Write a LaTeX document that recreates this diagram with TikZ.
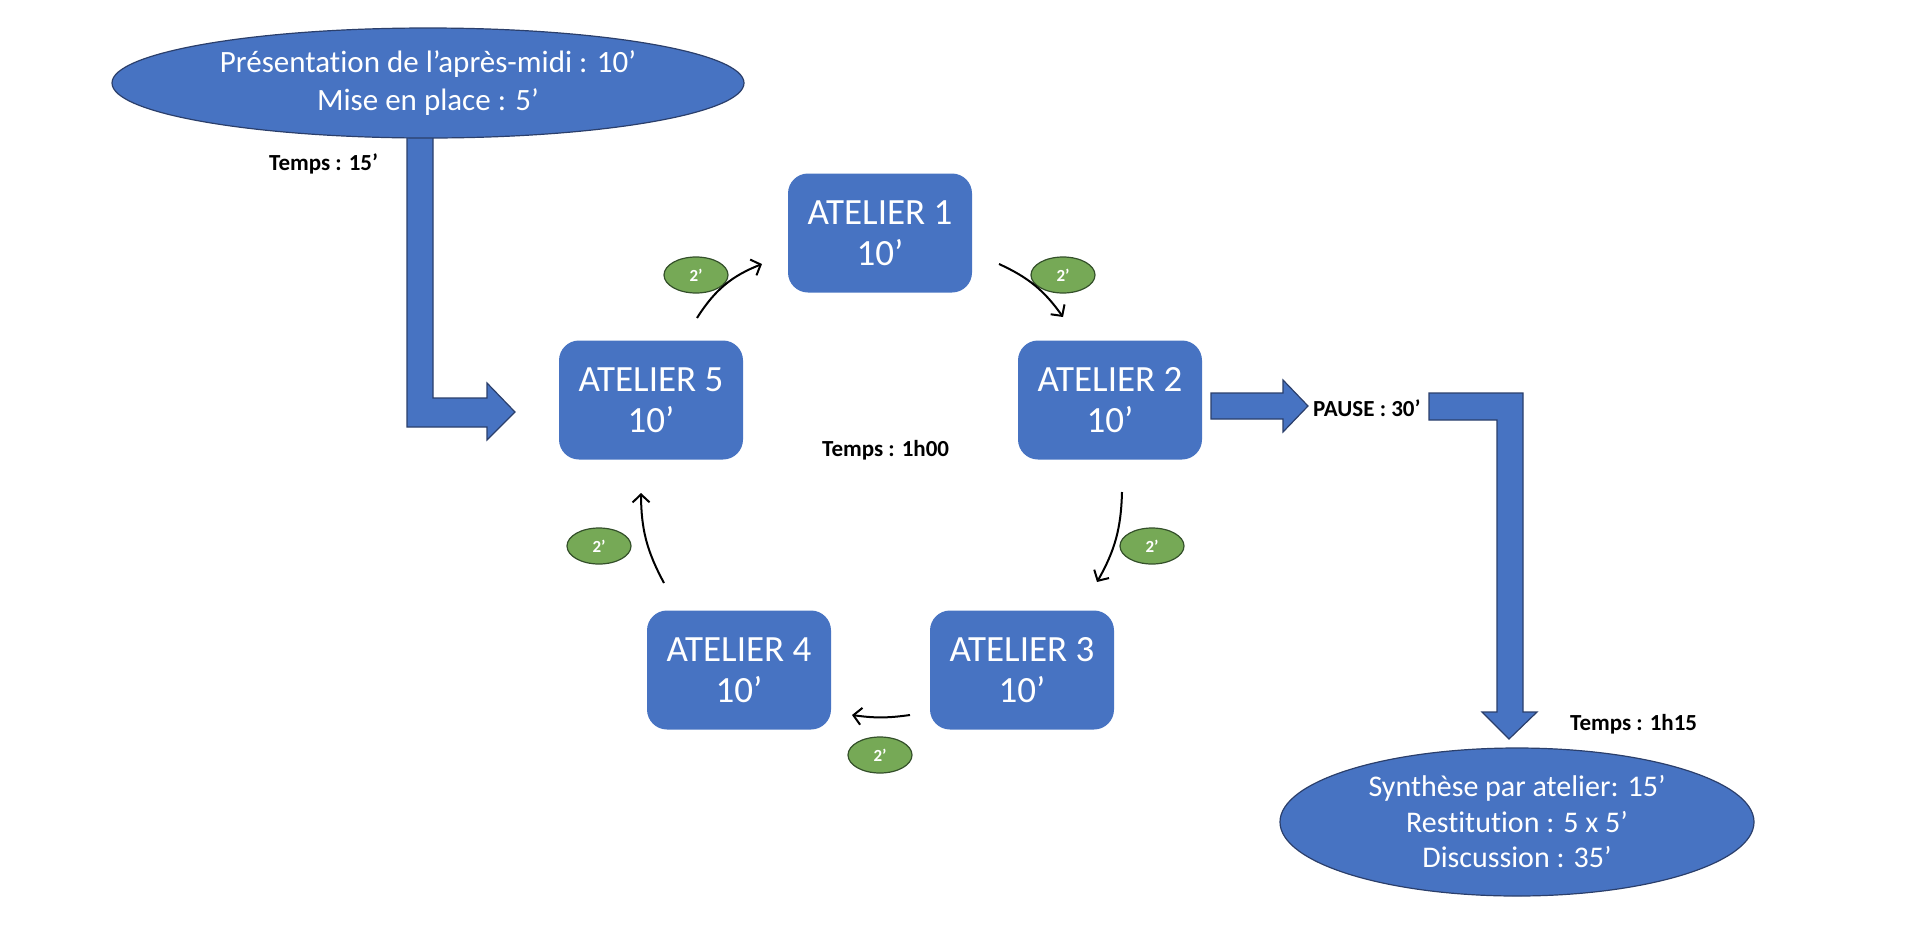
\documentclass[tikz,border=0pt]{standalone}
\usepackage{tikz}
\usepackage{xcolor}
\usepackage{fontspec}
\setmainfont{Carlito}[Ligatures={NoCommon}]
\usetikzlibrary{shapes.geometric,arrows.meta}

\definecolor{bleu}{HTML}{4773C2}
\definecolor{marine}{HTML}{2B3F6B}
\definecolor{vert}{HTML}{76A956}
\definecolor{vertfonce}{HTML}{34502A}

\tikzset{
	atelier/.style={rectangle, rounded corners=20pt, fill=bleu, text=white, minimum width=184pt, minimum height=119pt, align=center, font=\fontsize{37}{41}\selectfont},
	bulle/.style={ellipse, fill=bleu, draw=marine, line width=1.2pt, text=white, align=center, inner sep=0pt},
	pastille/.style={ellipse, fill=vert, draw=vertfonce, line width=1.2pt, minimum width=64pt, minimum height=36pt, inner sep=0pt, text=white, font=\bfseries\fontsize{17}{17}\selectfont},
	temps/.style={anchor=west, inner sep=0pt, font=\bfseries\fontsize{23}{23}\selectfont},
	grossefleche/.style={fill=bleu, draw=marine, line width=1.2pt},
	tour/.style={-{Straight Barb[length=8pt,width=17pt]}, line width=2pt}
}

\begin{document}
\begin{tikzpicture}[x=1pt, y=-1pt]
		\useasboundingbox (0,0) rectangle (1908,930);

		\filldraw[grossefleche] (407,130) -- (433,130) -- (433,398) -- (487,398) -- (487,383) -- (515,412) -- (487,440) -- (487,427) -- (407,427) -- cycle;
		\filldraw[grossefleche] (1211,393) -- (1283,393) -- (1283,380) -- (1308,406) -- (1283,432) -- (1283,419) -- (1211,419) -- cycle;
		\filldraw[grossefleche] (1429,393) -- (1523,393) -- (1523,712) -- (1537,712) -- (1509,739) -- (1482,712) -- (1497,712) -- (1497,420) -- (1429,420) -- cycle;

		\node[bulle, minimum width=632pt, minimum height=110pt, font=\fontsize{31}{38}\selectfont] (intro) at (428,83) {Présentation de l’après-midi : 10’\\Mise en place : 5’};
		\node[bulle, minimum width=474pt, minimum height=148pt, font=\fontsize{30}{35.5}\selectfont] (synthese) at (1517,822) {Synthèse par atelier: 15’\\Restitution : 5 x 5’\\Discussion : 35’};

		\node[atelier] (a1) at (880,233) {ATELIER 1\\10’};
		\node[atelier] (a2) at (1110,400) {ATELIER 2\\10’};
		\node[atelier] (a3) at (1022,670) {ATELIER 3\\10’};
		\node[atelier] (a4) at (739,670) {ATELIER 4\\10’};
		\node[atelier] (a5) at (651,400) {ATELIER 5\\10’};

		\node[temps] (t15) at (269,164) {Temps : 15’};
		\node[temps] (t100) at (822,450) {Temps : 1h00};
		\node[temps] (pause) at (1313,408) {PAUSE : 30’};
		\node[temps] (t115) at (1570,724) {Temps : 1h15};

		\node[pastille] (p51) at (696,275) {2’};
		\node[pastille] (p12) at (1063,275) {2’};
		\node[pastille] (p23) at (1152,546) {2’};
		\node[pastille] (p34) at (880,755) {2’};
		\node[pastille] (p45) at (599,546) {2’};

		\coordinate (d51) at (697,318);
		\coordinate (f51) at (762,264);
		\coordinate (d12) at (999,264);
		\coordinate (f12) at (1063,317);
		\coordinate (d23) at (1122,492);
		\coordinate (f23) at (1097,582);
		\coordinate (d34) at (910,715);
		\coordinate (f34) at (852,715);
		\coordinate (d45) at (664,583);
		\coordinate (f45) at (641,493);

		\draw[tour] (d51) to[bend left=18] (f51);
		\draw[tour] (d12) to[bend left=15] (f12);
		\draw[tour] (d23) to[bend left=14] (f23);
		\draw[tour] (d34) to[bend left=8] (f34);
		\draw[tour] (d45) to[bend left=14] (f45);

	\end{tikzpicture}
\end{document}
